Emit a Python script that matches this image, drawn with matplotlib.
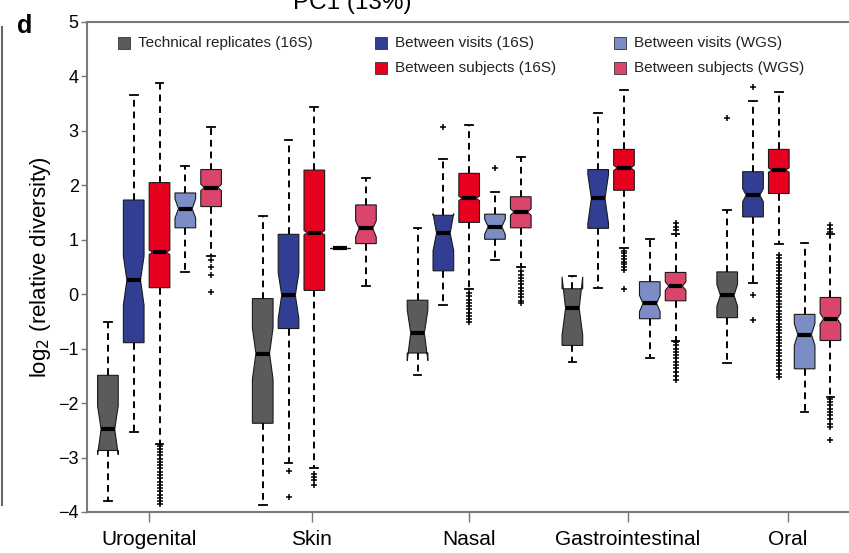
import matplotlib

matplotlib.use("Agg")
import matplotlib.pyplot as plt
from matplotlib.lines import Line2D
from matplotlib.path import Path

plt.rcParams["font.family"] = ["Liberation Sans", "DejaVu Sans"]

# sites along the x axis
sites = ["Urogenital", "Skin", "Nasal", "Gastrointestinal", "Oral"]

series_labels = [
    "Technical replicates (16S)",
    "Between visits (16S)",
    "Between subjects (16S)",
    "Between visits (WGS)",
    "Between subjects (WGS)",
]
series_colors = ["#5b5b5b", "#323e94", "#e8001f", "#7c8dc6", "#d9456b"]

# box statistics per site: whislo, q1, cilo, med, cihi, q3, whishi
technical_16s = [
    (-3.79, -2.87, -2.95, -2.48, -2.05, -1.49, -0.51),
    (-3.88, -2.37, -1.56, -1.09, -0.62, -0.08, 1.43),
    (-1.49, -1.08, -1.22, -0.71, -0.29, -0.11, 1.21),
    (-1.24, -0.94, -0.75, -0.26, 0.32, 0.10, 0.33),
    (-1.27, -0.43, -0.22, -0.02, 0.18, 0.41, 1.54),
]
visits_16s = [
    (-2.53, -0.89, -0.20, 0.26, 0.70, 1.73, 3.66),
    (-3.10, -0.63, -0.45, -0.02, 0.40, 1.10, 2.84),
    (-0.20, 0.43, 0.80, 1.12, 1.48, 1.45, 2.49),
    (0.12, 1.21, 1.30, 1.76, 2.20, 2.29, 3.32),
    (0.20, 1.42, 1.70, 1.82, 1.94, 2.25, 3.55),
]
subjects_16s = [
    (-2.75, 0.12, 0.73, 0.77, 0.81, 2.05, 3.88),
    (-3.20, 0.07, 1.09, 1.13, 1.17, 2.28, 3.44),
    (0.10, 1.32, 1.72, 1.76, 1.80, 2.22, 3.11),
    (0.84, 1.91, 2.27, 2.32, 2.37, 2.66, 3.76),
    (0.93, 1.85, 2.24, 2.28, 2.32, 2.66, 3.72),
]
visits_wgs = [
    (0.40, 1.22, 1.40, 1.57, 1.75, 1.86, 2.35),
    (0.84, 0.84, 0.84, 0.84, 0.84, 0.84, 0.84),
    (0.63, 1.01, 1.10, 1.24, 1.38, 1.47, 1.88),
    (-1.18, -0.45, -0.32, -0.17, -0.02, 0.23, 1.02),
    (-2.16, -1.37, -0.94, -0.74, -0.54, -0.37, 0.94),
]
subjects_wgs = [
    (0.70, 1.61, 1.90, 1.96, 2.02, 2.29, 3.08),
    (0.15, 0.93, 1.05, 1.21, 1.35, 1.64, 2.13),
    (0.50, 1.22, 1.45, 1.51, 1.57, 1.79, 2.52),
    (-0.85, -0.12, 0.07, 0.15, 0.23, 0.40, 1.10),
    (-1.89, -0.85, -0.55, -0.45, -0.35, -0.06, 1.10),
]

# outliers per site
technical_16s_fliers = [[], [], [], [], [3.23]]
visits_16s_fliers = [[], [-3.25, -3.72], [3.08], [], [3.80, -0.02, -0.47]]
subjects_16s_fliers = [
    [-2.78, -2.84, -2.90, -2.96, -3.02, -3.08, -3.14, -3.20, -3.26, -3.32,
     -3.38, -3.44, -3.50, -3.56, -3.62, -3.68, -3.74, -3.80, -3.86],
    [-3.30, -3.36, -3.42, -3.50],
    [0.02, -0.04, -0.10, -0.16, -0.22, -0.28, -0.34, -0.40, -0.46, -0.51],
    [0.80, 0.75, 0.70, 0.65, 0.60, 0.55, 0.50, 0.45, 0.10],
    [0.72, 0.66, 0.60, 0.54, 0.48, 0.42, 0.36, 0.30, 0.24, 0.18, 0.12, 0.06,
     0.00, -0.06, -0.12, -0.18, -0.24, -0.30, -0.36, -0.42, -0.48, -0.54,
     -0.60, -0.66, -0.72, -0.78, -0.84, -0.90, -0.96, -1.02, -1.08, -1.14,
     -1.20, -1.26, -1.32, -1.40, -1.46, -1.52],
]
visits_wgs_fliers = [[], [], [2.31], [], []]
subjects_wgs_fliers = [
    [0.62, 0.50, 0.36, 0.04],
    [],
    [0.42, 0.36, 0.30, 0.24, 0.18, 0.12, 0.06, 0.00, -0.06, -0.12, -0.17],
    [1.18, 1.24, 1.30, -0.88, -0.94, -1.00, -1.06, -1.12, -1.18, -1.24,
     -1.30, -1.36, -1.42, -1.50, -1.58],
    [1.15, 1.20, 1.27, -1.92, -1.98, -2.04, -2.10, -2.16, -2.22, -2.30,
     -2.38, -2.44, -2.68],
]

all_stats = [technical_16s, visits_16s, subjects_16s, visits_wgs, subjects_wgs]
all_fliers = [technical_16s_fliers, visits_16s_fliers, subjects_16s_fliers,
              visits_wgs_fliers, subjects_wgs_fliers]

# layout (box slots: 5 boxes + 1 gap per site)
site_ticks = [1.6, 7.9, 14.0, 20.15, 26.35]
box_w = 0.8
notch_frac = 0.66  # box width kept at the median
W, H = 849, 553

fig = plt.figure(figsize=(W / 100, H / 100), dpi=100)
ax = fig.add_axes([87 / W, 1 - 512 / H, (W - 87) / W, 490 / H])

for k, (stats, fliers, color) in enumerate(zip(all_stats, all_fliers, series_colors)):
    bxp_stats = []
    for whislo, q1, cilo, med, cihi, q3, whishi in stats:
        bxp_stats.append(dict(med=med, q1=q1, q3=q3, whislo=whislo,
                              whishi=whishi, cilo=cilo, cihi=cihi, fliers=[]))
    for g, fl in enumerate(fliers):
        bxp_stats[g]["fliers"] = fl
    positions = [6 * g + k for g in range(len(sites))]
    art = ax.bxp(
        bxp_stats, positions=positions, widths=box_w, capwidths=0.3,
        shownotches=True, patch_artist=True, manage_ticks=False,
        boxprops=dict(facecolor=color, edgecolor="#1a1a1a", linewidth=0.8),
        medianprops=dict(color="black", linewidth=3, solid_capstyle="butt"),
        whiskerprops=dict(color="black", linewidth=1.4, linestyle=(0, (3.5, 2.5))),
        capprops=dict(color="black", linewidth=1.3),
        flierprops=dict(marker="+", markersize=5, markeredgecolor="black",
                        markeredgewidth=1.1, linestyle="none"),
    )
    # shallower notches, like the original figure
    half = 0.5 * box_w * notch_frac
    for pos, box, median in zip(positions, art["boxes"], art["medians"]):
        verts = box.get_path().vertices.copy()
        verts[3, 0] = pos + half
        verts[8, 0] = pos - half
        box.set_path(Path(verts))
        median.set_xdata([pos - half, pos + half])

ax.set_xlim(-0.81, 28.72)
ax.set_ylim(-4, 5)
ax.set_yticks(range(-4, 6))
ax.set_xticks(site_ticks)
ax.set_xticklabels(sites, fontsize=15)
ax.tick_params(axis="y", labelsize=13, length=4, width=1, color="#777777", pad=2)
ax.tick_params(axis="x", length=7, width=1, color="#777777", pad=6)
ax.set_ylabel("log$_2$ (relative diversity)", fontsize=16, labelpad=4)
for side in ("left", "bottom", "top"):
    ax.spines[side].set_color("#7a7a7a")
    ax.spines[side].set_linewidth(1.5)
ax.spines["right"].set_visible(False)

# legend drawn by hand, 3 columns x 2 rows
legend_px = [(124, 43), (381, 43), (381, 68), (620, 43), (620, 68)]
for (px, py), label, color in zip(legend_px, series_labels, series_colors):
    xa, ya = (px - 87) / (W - 87), (512 - py) / 490
    ax.plot([xa], [ya], marker="s", markersize=9, markerfacecolor=color,
            markeredgecolor="#333333", markeredgewidth=0.6,
            transform=ax.transAxes, clip_on=False)
    ax.text(xa + 14 / (W - 87), ya, label, transform=ax.transAxes,
            fontsize=11, va="center", ha="left", color="#222222")

fig.text(352 / W, 1 - 9 / H, "PC1 (13%)", fontsize=17.5, ha="center", va="baseline")
fig.text(17 / W, 1 - 33 / H, "d", fontsize=18, fontweight="bold", ha="left", va="baseline")
fig.add_artist(Line2D([2 / W, 2 / W], [1 - 505 / H, 1 - 27 / H], color="#666666", linewidth=1.5))

fig.savefig("out.png", dpi=100)
